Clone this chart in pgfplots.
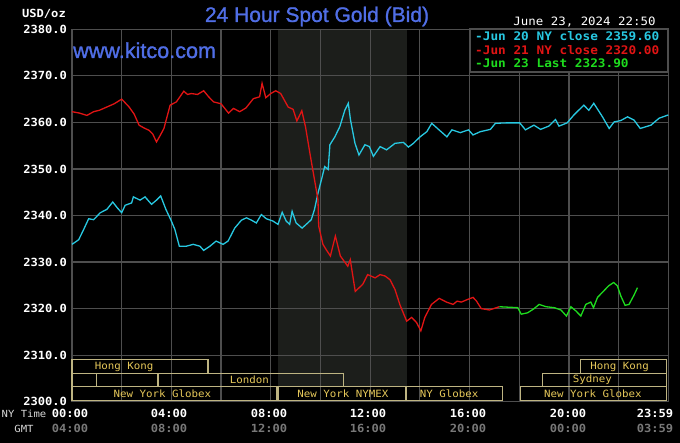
\documentclass[border=0pt]{standalone}
\usepackage{pgfplots}
\pgfplotsset{compat=1.18}
\usepackage{fontspec}
\setmainfont{DejaVu Sans Mono}[FakeStretch=1.08]
\newfontfamily\titlefont{Liberation Sans}[FakeBold=1.2]
\definecolor{kcyan}{RGB}{40,200,225}
\definecolor{kred}{RGB}{225,20,20}
\definecolor{kgreen}{RGB}{30,220,30}
\definecolor{kblue}{RGB}{80,110,230}
\definecolor{kgrid}{RGB}{78,78,78}
\definecolor{kshade}{RGB}{28,30,27}
\definecolor{ksess}{RGB}{190,180,130}
\definecolor{ksesstext}{RGB}{230,200,90}
\definecolor{kgmt}{RGB}{120,120,120}
\newcommand\sessfont{\fontsize{10}{10}\selectfont}
\newcommand\tickfont{\bfseries\fontsize{11.2}{11.2}\selectfont}
% NY time over GMT, one node per column
\newcommand\tlab[3]{\node[font=\bfseries\fontsize{11.2}{15.4}\selectfont, align=center, inner sep=0pt] at (#1pt,22.2pt) {\textcolor{white}{#2}\\\textcolor{kgmt}{#3}};}
\begin{document}
\begin{tikzpicture}
\fill[black] (0pt,0pt) rectangle (680pt,443pt);
% NYMEX pit session band (08:20-13:30), behind the grid
\fill[kshade] (277.5pt,56.2pt) rectangle (407.2pt,413.7pt);
\begin{axis}[
  at={(72pt,41.3pt)}, anchor=south west,
  scale only axis, width=596.3pt, height=372.4pt,
  xmin=0, xmax=24, ymin=2300, ymax=2380,
  clip=false,
  axis line style={draw=kgrid, line width=1.2pt},
  grid=major, major grid style={draw=kgrid, line width=1.2pt},
  xtick={0,2,...,24}, xticklabel={},
  ytick={2300,2310,...,2380},
  tick style={draw=none},
  yticklabel style={font=\tickfont, text=white, xshift=-1.5pt,
    /pgf/number format/.cd, fixed, fixed zerofill, precision=1, 1000 sep={}, assume math mode=true},
]
% trading sessions
\begin{scope}[draw=ksess, line width=1.2pt]
\draw (axis cs:0,2306.1) rectangle (axis cs:5.47,2309);
\draw (axis cs:20.48,2306.1) rectangle (axis cs:23.92,2309);
\draw (axis cs:0,2303.2) rectangle (axis cs:0.97,2306.1);
\draw (axis cs:3.46,2303.2) rectangle (axis cs:10.92,2306.1);
\draw (axis cs:18.95,2303.2) rectangle (axis cs:23.92,2306.1);
\draw (axis cs:0,2300.2) rectangle (axis cs:8.25,2303.2);
\draw (axis cs:8.29,2300.2) rectangle (axis cs:13.44,2303.2);
\draw (axis cs:13.44,2300.2) rectangle (axis cs:17.33,2303.2);
\draw (axis cs:18.04,2300.2) rectangle (axis cs:23.92,2303.2);
\end{scope}
\begin{scope}[every node/.style={font=\sessfont, text=ksesstext, inner sep=0pt}]
\node at (axis cs:2.1,2307.55) {Hong Kong};
\node at (axis cs:22.04,2307.55) {Hong Kong};
\node at (axis cs:7.14,2304.65) {London};
\node at (axis cs:20.94,2304.65) {Sydney};
\node at (axis cs:3.64,2301.7) {New York Globex};
\node at (axis cs:10.9,2301.7) {New York NYMEX};
\node at (axis cs:15.18,2301.7) {NY Globex};
\node at (axis cs:20.96,2301.7) {New York Globex};
\end{scope}

% Jun 20 NY close
\addplot[kcyan, line width=1.3pt] table {
0 2333.8
0.27 2334.8
0.47 2337.0
0.67 2339.3
0.87 2339.1
1.14 2340.6
1.4 2341.3
1.64 2342.9
1.83 2341.6
2.0 2340.6
2.14 2342.2
2.4 2342.7
2.47 2344.0
2.74 2343.3
2.94 2344.0
3.2 2342.4
3.4 2343.3
3.57 2344.2
3.78 2341.3
4.0 2338.8
4.14 2337.0
4.32 2333.4
4.6 2333.4
4.88 2333.8
5.15 2333.4
5.3 2332.5
5.55 2333.4
5.8 2334.5
6.08 2333.8
6.28 2334.5
6.55 2337.3
6.82 2339.0
7.02 2339.5
7.22 2339.0
7.42 2338.4
7.62 2340.2
7.82 2339.3
8.09 2338.8
8.29 2338.1
8.46 2340.7
8.62 2338.8
8.76 2338.1
8.86 2340.9
9.02 2338.4
9.26 2337.3
9.49 2338.4
9.63 2339.1
9.76 2341.3
9.9 2344.8
10.04 2347.7
10.17 2350.5
10.31 2349.9
10.38 2355.2
10.58 2356.9
10.78 2359.1
10.98 2362.6
11.12 2364.1
11.21 2360.5
11.39 2355.5
11.55 2353.0
11.79 2355.2
11.97 2354.8
12.13 2352.7
12.4 2354.8
12.66 2354.1
13.0 2355.5
13.34 2355.7
13.54 2354.7
13.74 2355.5
14.01 2356.9
14.28 2358.0
14.48 2359.8
14.75 2358.5
15.09 2356.9
15.29 2358.4
15.63 2357.8
15.96 2358.4
16.14 2357.3
16.43 2358.0
16.84 2358.5
17.04 2359.8
17.51 2359.9
18.02 2359.9
18.25 2358.4
18.59 2359.4
18.86 2358.5
19.19 2359.2
19.46 2360.6
19.6 2359.2
19.93 2359.9
20.2 2361.6
20.6 2363.7
20.8 2362.6
21.0 2364.1
21.35 2361.2
21.62 2358.7
21.82 2360.1
22.09 2360.4
22.36 2361.2
22.62 2360.5
22.87 2358.7
23.3 2359.4
23.63 2360.9
24 2361.6
};

% Jun 21 NY close
\addplot[kred, line width=1.3pt] table {
0 2362.3
0.3 2362.0
0.6 2361.5
0.87 2362.3
1.1 2362.6
1.4 2363.3
1.7 2364.0
2.0 2365.0
2.3 2363.3
2.5 2361.8
2.7 2359.4
2.9 2358.8
3.1 2358.3
3.25 2357.5
3.4 2355.8
3.55 2357.2
3.7 2358.7
3.95 2363.7
4.2 2364.4
4.5 2366.7
4.65 2366.0
4.8 2366.2
5.05 2366.0
5.3 2366.8
5.5 2365.5
5.7 2364.4
6.0 2364.0
6.3 2362.0
6.5 2363.0
6.75 2362.3
7.0 2363.1
7.3 2365.1
7.55 2365.5
7.65 2368.4
7.8 2365.3
8.0 2366.2
8.2 2366.8
8.4 2366.2
8.7 2363.3
8.9 2362.8
9.05 2360.3
9.25 2362.5
9.4 2359.0
9.6 2352.6
9.76 2347.7
9.9 2343.4
9.93 2337.7
10.1 2333.8
10.25 2332.5
10.4 2331.3
10.6 2335.6
10.8 2331.3
11.1 2329.1
11.2 2330.5
11.4 2323.7
11.7 2325.2
11.9 2327.3
12.2 2326.6
12.4 2327.3
12.6 2327.0
12.8 2326.2
13.0 2324.1
13.2 2320.8
13.47 2317.3
13.67 2318.1
13.87 2317.0
14.04 2315.2
14.2 2318.1
14.47 2320.9
14.78 2322.2
15.07 2321.4
15.34 2320.9
15.5 2321.6
15.67 2321.4
15.94 2322.0
16.14 2322.4
16.27 2321.7
16.47 2320.0
16.8 2319.7
17.2 2320.4
};

% Jun 23 last
\addplot[kgreen, line width=1.3pt] table {
17.2 2320.4
17.94 2320.2
18.08 2318.8
18.34 2319.1
18.6 2320.0
18.8 2320.9
19.08 2320.4
19.41 2320.2
19.68 2319.7
19.9 2318.4
20.08 2320.4
20.28 2319.5
20.48 2318.4
20.68 2320.9
20.88 2321.4
20.99 2320.2
21.15 2322.4
21.35 2323.5
21.6 2324.9
21.8 2325.6
21.95 2324.9
22.09 2322.7
22.26 2320.7
22.42 2320.9
22.62 2322.9
22.76 2324.5
};
\end{axis}

% titles and labels
\node[font=\titlefont\fontsize{21}{21}\selectfont, text=kblue] at (317pt,426.5pt) {24 Hour Spot Gold (Bid)};
\node[font=\titlefont\fontsize{21.6}{21.6}\selectfont, text=kblue, anchor=base west, inner sep=0pt] at (73pt,385pt) {www.kitco.com};
\node[font=\tickfont, text=white, anchor=east, inner sep=0pt] at (66pt,429pt) {USD/oz};
\node[font=\fontsize{11.5}{11.5}\selectfont, text=white] at (584.5pt,421pt) {June 23, 2024 22:50};

% legend
\filldraw[fill=black, draw=kgrid, line width=1.2pt] (470pt,371pt) rectangle (668pt,414pt);
\begin{scope}[every node/.style={font=\bfseries\fontsize{11.8}{11.8}\selectfont, anchor=west, inner sep=0pt}]
\node[text=kcyan] at (475pt,407pt) {-Jun 20 NY close 2359.60};
\node[text=kred] at (475pt,393pt) {-Jun 21 NY close 2320.00};
\node[text=kgreen] at (475pt,379.7pt) {-Jun 23 Last 2323.90};
\end{scope}

% time axis labels
\node[font=\fontsize{9.8}{14.5}\selectfont, text=white!85!black, align=center, inner sep=0pt] at (24pt,21.5pt) {NY Time\\GMT};
\tlab{70}{00:00}{04:00}
\tlab{169}{04:00}{08:00}
\tlab{269}{08:00}{12:00}
\tlab{368}{12:00}{16:00}
\tlab{468}{16:00}{20:00}
\tlab{568}{20:00}{00:00}
\tlab{655}{23:59}{03:59}
\end{tikzpicture}
\end{document}
